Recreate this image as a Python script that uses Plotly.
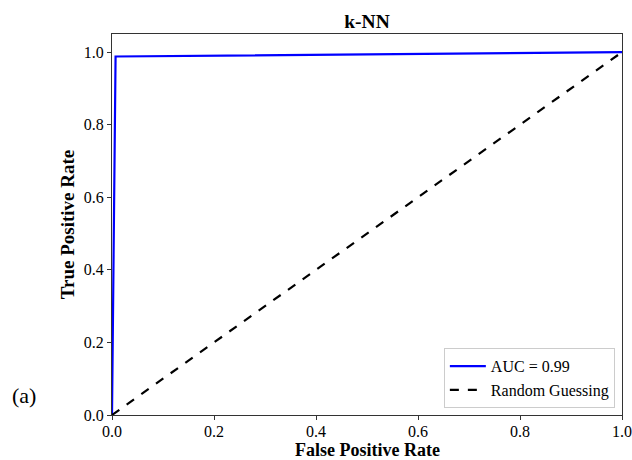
import plotly.graph_objects as go

fpr = [0.0, 0.007, 1.0]
tpr = [0.0, 0.988, 1.0]
diag_x = [0.0, 1.0]
diag_y = [0.0, 1.0]
auc_label = "AUC = 0.99"
rand_label = "Random Guessing"
title = "k-NN"
x_title = "False Positive Rate"
y_title = "True Positive Rate"
tick_vals = [0.0, 0.2, 0.4, 0.6, 0.8, 1.0]
tick_text = ["0.0", "0.2", "0.4", "0.6", "0.8", "1.0"]

FONT = "Liberation Serif, Times New Roman, serif"

fig = go.Figure()
fig.add_trace(go.Scatter(x=fpr, y=tpr, mode="lines", name=auc_label,
                         line=dict(color="#0000ff", width=2.2)))
fig.add_trace(go.Scatter(x=diag_x, y=diag_y, mode="lines", name=rand_label,
                         line=dict(color="black", width=2.2, dash="dash")))

axis_common = dict(
    showgrid=False, zeroline=False, showline=True, mirror=True,
    linecolor="#333333", linewidth=1.2, automargin=False,
    ticks="outside", ticklen=4, tickwidth=1, tickcolor="#333333",
    tickvals=tick_vals, ticktext=tick_text,
    tickfont=dict(family=FONT, size=16, color="black"),
)
fig.update_layout(
    width=632, height=460,
    margin=dict(l=112, r=10, t=34, b=45, autoexpand=False),
    paper_bgcolor="white", plot_bgcolor="white",
    title=dict(text="<b>" + title + "</b>", x=0.5, xanchor="center",
               xref="paper", y=0.955, yanchor="middle",
               font=dict(family=FONT, size=19.5, color="black")),
    xaxis=dict(range=[0, 1], ticklabelstandoff=-2, **axis_common),
    yaxis=dict(range=[0, 1.05], title=dict(text="<b>" + y_title + "</b>", standoff=4,
               font=dict(family=FONT, size=19, color="black")), **axis_common),
    legend=dict(x=0.986, y=0.018, xanchor="right", yanchor="bottom",
                bgcolor="rgba(255,255,255,0.8)", bordercolor="#cccccc", borderwidth=1,
                font=dict(family=FONT, size=16, color="black"),
                tracegroupgap=0, itemwidth=36),
    showlegend=True,
)
fig.add_annotation(text="<b>" + x_title + "</b>", xref="paper", yref="paper",
                   x=0.5, y=-0.091, xanchor="center", yanchor="middle",
                   showarrow=False, font=dict(family=FONT, size=18, color="black"))
fig.add_annotation(text="(a)", xref="paper", yref="paper",
                   x=-0.173, y=0.05, xanchor="center", yanchor="middle",
                   showarrow=False, font=dict(family=FONT, size=22, color="black"))
fig.write_html("out.html", config={"displayModeBar": False},
               post_script="document.body.style.margin='0';document.body.style.overflow='hidden';")
